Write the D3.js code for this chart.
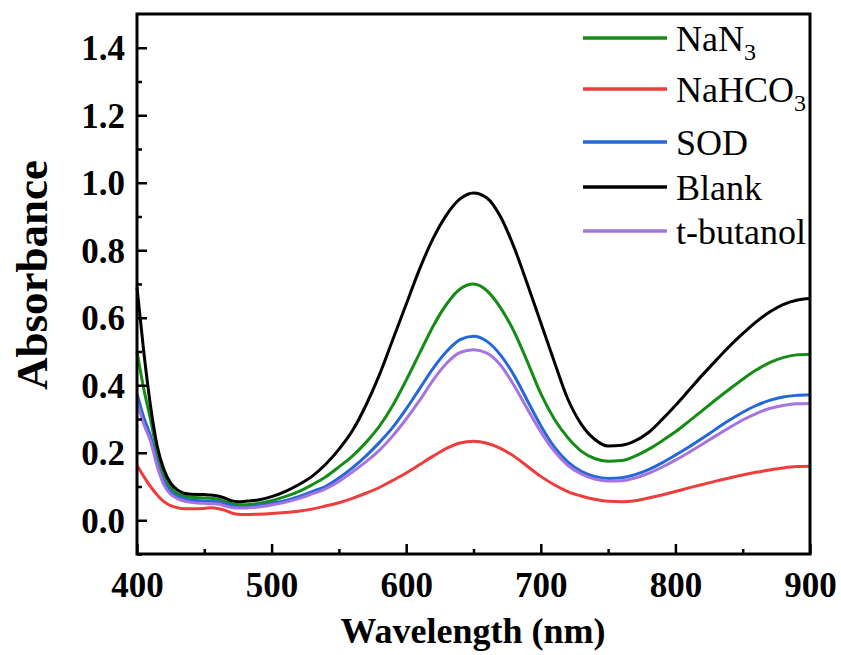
<!DOCTYPE html>
<html>
<head>
<meta charset="utf-8">
<script src="https://cdn.jsdelivr.net/npm/d3@7"></script>
<style>
  body { margin: 0; background: #fff; }
  svg { display: block; }
  svg text { font-family: 'Liberation Serif', 'Times New Roman', serif; }
</style>
</head>
<body>
<svg id="chart" width="841" height="655"></svg>
<script>
// wavelength grid (nm)
var wavelength = [400, 405, 410, 415, 420, 425, 430, 435, 440, 450, 455, 460, 465, 470, 475, 480,
  490, 500, 510, 520, 530, 540, 550, 560, 570, 580, 590, 600, 610, 620, 630, 640, 650, 660, 670,
  680, 690, 700, 710, 720, 730, 740, 750, 760, 770, 780, 790, 800, 810, 820, 830, 840, 850, 860,
  870, 880, 890, 900];

// absorbance
var nan3 = [0.50, 0.39, 0.30, 0.20, 0.135, 0.097, 0.079, 0.071, 0.068, 0.066, 0.065, 0.062, 0.056, 0.05, 0.046, 0.046,
  0.05, 0.058, 0.07, 0.085, 0.105, 0.128, 0.158, 0.19, 0.23, 0.278, 0.34, 0.415, 0.495, 0.575, 0.64, 0.685, 0.70, 0.68, 0.63,
  0.56, 0.47, 0.375, 0.30, 0.245, 0.205, 0.183, 0.175, 0.177, 0.19, 0.21, 0.235, 0.262, 0.293, 0.325, 0.357, 0.388, 0.418, 0.445,
  0.467, 0.482, 0.49, 0.492];
var nahco3 = [0.163, 0.13, 0.10, 0.075, 0.055, 0.043, 0.037, 0.034, 0.034, 0.035, 0.037, 0.035, 0.03, 0.022, 0.018, 0.017,
  0.018, 0.02, 0.023, 0.027, 0.033, 0.042, 0.052, 0.065, 0.08, 0.097, 0.118, 0.14, 0.165, 0.19, 0.213, 0.229, 0.234, 0.228, 0.213,
  0.19, 0.16, 0.13, 0.105, 0.085, 0.072, 0.062, 0.056, 0.055, 0.058, 0.066, 0.075, 0.085, 0.096, 0.106, 0.116, 0.125, 0.134, 0.142,
  0.149, 0.155, 0.159, 0.16];
var sod = [0.375, 0.305, 0.25, 0.17, 0.115, 0.085, 0.071, 0.064, 0.06, 0.057, 0.056, 0.055, 0.05, 0.043, 0.04, 0.04,
  0.043, 0.05, 0.058, 0.07, 0.085, 0.10, 0.125, 0.155, 0.19, 0.23, 0.275, 0.33, 0.39, 0.45, 0.50, 0.535, 0.545, 0.53, 0.49,
  0.43, 0.355, 0.28, 0.217, 0.173, 0.145, 0.13, 0.124, 0.126, 0.135, 0.15, 0.17, 0.193, 0.217, 0.243, 0.27, 0.296, 0.32, 0.34,
  0.355, 0.365, 0.37, 0.372];
var blank = [0.69, 0.50, 0.34, 0.22, 0.15, 0.11, 0.09, 0.08, 0.077, 0.076, 0.075, 0.072, 0.066, 0.058, 0.055, 0.056,
  0.06, 0.07, 0.085, 0.105, 0.13, 0.165, 0.21, 0.265, 0.34, 0.43, 0.535, 0.64, 0.745, 0.835, 0.905, 0.952, 0.97, 0.955, 0.90,
  0.81, 0.70, 0.585, 0.47, 0.36, 0.285, 0.24, 0.22, 0.222, 0.235, 0.26, 0.298, 0.34, 0.385, 0.43, 0.473, 0.515, 0.553, 0.588,
  0.617, 0.639, 0.652, 0.657];
var tbutanol = [0.35, 0.285, 0.235, 0.16, 0.105, 0.077, 0.064, 0.057, 0.053, 0.05, 0.049, 0.048, 0.043, 0.038, 0.036, 0.036,
  0.039, 0.045, 0.053, 0.064, 0.078, 0.093, 0.115, 0.143, 0.173, 0.207, 0.25, 0.30, 0.355, 0.415, 0.465, 0.497, 0.505, 0.495, 0.46,
  0.40, 0.33, 0.262, 0.205, 0.163, 0.137, 0.122, 0.116, 0.117, 0.125, 0.139, 0.157, 0.178, 0.201, 0.225, 0.25, 0.274, 0.297, 0.316,
  0.331, 0.34, 0.345, 0.346];

var seriesNames = ['NaN3', 'NaHCO3', 'SOD', 'Blank', 't-butanol'];
var seriesValues = [nan3, nahco3, sod, blank, tbutanol];
var seriesColors = ['#168c16', '#ee3d3d', '#2468d8', '#000000', '#a574e0'];

var xTicks = [400, 500, 600, 700, 800, 900];
var yTicks = [0.0, 0.2, 0.4, 0.6, 0.8, 1.0, 1.2, 1.4];

var svg = d3.select('#chart');
var L = 137, R = 810, T = 14, B = 554;

var scX = d3.scaleLinear().domain([400, 900]).range([L, R]);
var scY = d3.scaleLinear().domain([-0.1, 1.5]).range([B, T]);

svg.append('rect').attr('width', 841).attr('height', 655).attr('fill', '#fff');

// curves
var lnMkr = d3.line()
  .x((d) => scX(d[0]))
  .y((d) => scY(d[1]))
  .curve(d3.curveMonotoneX);

svg.append('g')
  .selectAll('path')
  .data(seriesValues)
  .enter()
  .append('path')
  .attr('d', (vals) => lnMkr(wavelength.map((w, i) => [w, vals[i]])))
  .attr('fill', 'none')
  .attr('stroke', (d, i) => seriesColors[i])
  .attr('stroke-width', 3)
  .attr('stroke-linejoin', 'round');

// axes: ticks point inward
var fmtY = d3.format('.1f');
var gx = svg.append('g').attr('transform', 'translate(0,' + B + ')')
  .call(d3.axisBottom(scX).tickValues(xTicks).tickSize(-10).tickPadding(14).tickFormat(d3.format('d')));
svg.append('g').attr('transform', 'translate(0,' + B + ')')
  .call(d3.axisBottom(scX).tickValues([450, 550, 650, 750, 850]).tickSize(-5).tickFormat(''));
var gy = svg.append('g').attr('transform', 'translate(' + L + ',0)')
  .call(d3.axisLeft(scY).tickValues(yTicks).tickSize(-10).tickPadding(12).tickFormat(fmtY));
svg.append('g').attr('transform', 'translate(' + L + ',0)')
  .call(d3.axisLeft(scY).tickValues([-0.1, 0.1, 0.3, 0.5, 0.7, 0.9, 1.1, 1.3]).tickSize(-5).tickFormat(''));

svg.selectAll('.domain').remove();
svg.selectAll('.tick line').attr('stroke', '#000').attr('stroke-width', 2.5);
svg.selectAll('.tick text')
  .attr('fill', '#000')
  .attr('font-family', 'Liberation Serif, serif')
  .attr('font-weight', 'bold')
  .attr('font-size', 35);
gx.selectAll('.tick text').attr('y', 0).attr('dy', 43);
gy.selectAll('.tick text').attr('dy', '0.34em');

// frame
svg.append('rect')
  .attr('x', L).attr('y', T)
  .attr('width', R - L).attr('height', B - T)
  .attr('fill', 'none')
  .attr('stroke', '#000')
  .attr('stroke-width', 3);

// axis titles
svg.append('text')
  .attr('x', 473).attr('y', 643)
  .attr('text-anchor', 'middle')
  .attr('font-weight', 'bold')
  .attr('font-size', 36)
  .text('Wavelength (nm)');
svg.append('text')
  .attr('transform', 'translate(47,275) rotate(-90)')
  .attr('text-anchor', 'middle')
  .attr('font-weight', 'bold')
  .attr('font-size', 45)
  .text('Absorbance');

// legend
var legY = [38, 89, 142, 187, 231];
var leg = svg.append('g')
  .selectAll('g')
  .data(seriesNames)
  .enter()
  .append('g')
  .attr('transform', (d, i) => 'translate(583,' + legY[i] + ')');
leg.append('line')
  .attr('x1', 0).attr('x2', 84)
  .attr('stroke', (d, i) => seriesColors[i])
  .attr('stroke-width', 3.5);
var lt = leg.append('text')
  .attr('x', 93).attr('y', 13)
  .attr('font-size', 36)
  .attr('fill', '#000');
lt.each(function (d) {
  var t = d3.select(this);
  var m = d.match(/^(.*?)(\d)$/);
  if (m) {
    t.append('tspan').text(m[1]);
    t.append('tspan').attr('font-size', 24).attr('dy', 9).text(m[2]);
  } else {
    t.text(d);
  }
});
</script>
</body>
</html>
